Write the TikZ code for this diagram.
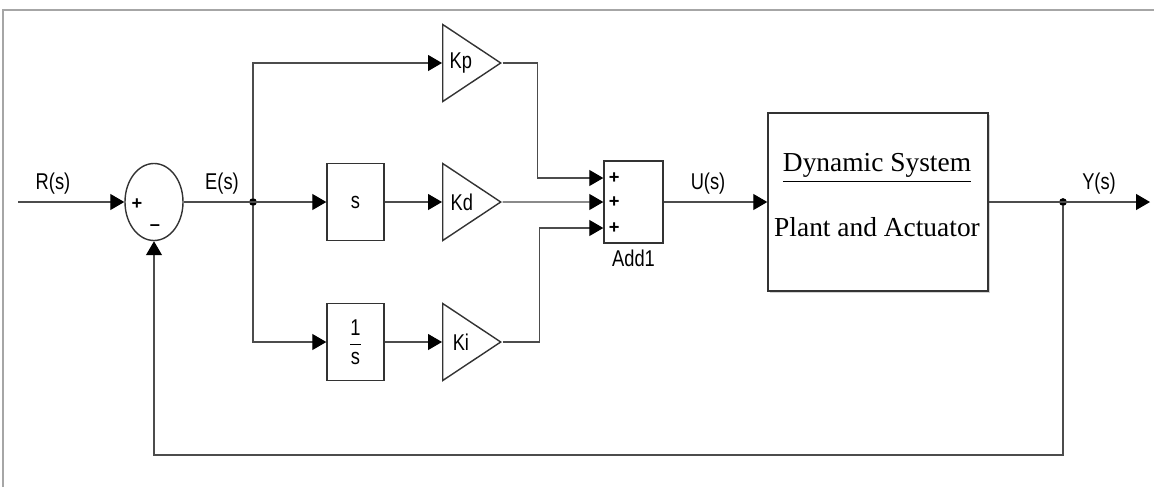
\documentclass[tikz,border=0pt]{standalone}
\usepackage{amsmath}
\usepackage{graphicx}
\usepackage{fontspec}
\setmainfont{Liberation Sans}
\newfontfamily\plantfont{Liberation Serif}
\usepackage{tikz}
\usetikzlibrary{arrows.meta, shapes.geometric, positioning, shadows, calc}
\newcommand{\tall}[1]{\scalebox{1}[1.25]{#1}}

\begin{document}
\begin{tikzpicture}[x=0.025cm, y=-0.025cm,
    wire/.style={draw=black!70, line width=0.8pt},
    sig/.style={wire, -{Triangle[length=3.5mm, width=4mm, color=black]}},
    lbl/.style={font=\fontsize{13}{15}\selectfont},
    blk/.style={draw=black!80, fill=white, line width=1pt, lbl},
    gain/.style={isosceles triangle, isosceles triangle stretches, shape border rotate=0,
                 draw=black!80, fill=white, line width=1pt, minimum width=1.925cm,
                 minimum height=1.45cm, inner sep=1pt, anchor=west, lbl},
    dot/.style={circle, fill=black, inner sep=0pt, minimum size=5.5pt}]
    \useasboundingbox (0,0) rectangle (1154,487);
    \draw[black!35, line width=1.5pt] (3,487) -- (3,10) -- (1154,10);

    % summing junction
    \node[ellipse, draw=black!80, line width=1pt, minimum width=1.45cm, minimum height=1.925cm] (sum) at (154,202) {};
    \node[lbl] (sumplus) at (137,204) {\textbf{+}};
    \node[lbl] (summinus) at (155,228) {\textbf{--}};
    \coordinate (rin) at (18,202);
    \node[lbl] (rlab) at (53,184) {\tall{R(s)}};
    \node[lbl] (elab) at (222,184) {\tall{E(s)}};
    \node[dot] (split) at (253,202) {};

    % PID branches
    \node[gain] (kp) at (442,63) {\tall{Kp}};
    \node[blk, minimum width=1.425cm, minimum height=1.925cm] (sblk) at (355.5,202) {\tall{s}};
    \node[gain] (kd) at (442,202) {\tall{Kd}};
    \node[blk, minimum width=1.425cm, minimum height=1.925cm] (iblk) at (355.5,342) {\tall{$\dfrac{\text{1}}{\text{s}}$}};
    \node[gain] (ki) at (442,342) {\tall{Ki}};

    % adder
    \node[blk, minimum width=1.475cm, minimum height=2.05cm] (add) at (633.5,202) {};
    \node[lbl, below=1pt of add] (addlab) {\tall{Add1}};
    \coordinate (in1) at ($(add.west)+(0,-24)$);
    \coordinate (in2) at (add.west);
    \coordinate (in3) at ($(add.west)+(0,26)$);
    \node[lbl] (p1) at ($(in1)+(11,0)$) {\textbf{+}};
    \node[lbl] (p2) at ($(in2)+(11,0)$) {\textbf{+}};
    \node[lbl] (p3) at ($(in3)+(11,0)$) {\textbf{+}};
    \node[lbl] (ulab) at (708,184) {\tall{U(s)}};

    % plant
    \node[blk, minimum width=5.5cm, minimum height=4.45cm,
          drop shadow={shadow xshift=1.5pt, shadow yshift=-1.5pt, fill=black!35}] (plant) at (878,202) {};
    \node[font=\plantfont\fontsize{19.5}{22}\selectfont] (dyn) at (877,168) {\underline{Dynamic System}};
    \node[font=\plantfont\fontsize{19.5}{22}\selectfont] (pa) at (877,227) {Plant and Actuator};

    \node[dot] (ysplit) at (1063,202) {};
    \coordinate (yout) at (1150,202);
    \coordinate (fb) at (1063,455);
    \node[lbl] (ylab) at (1099,184) {\tall{Y(s)}};

    % connections
    \draw[sig] (rin) -- (sum.west);
    \draw[sig] (sum.east) -- (sblk.west);
    \draw[sig] (split) |- (kp.west);
    \draw[sig] (split) |- (iblk.west);
    \draw[sig] (sblk.east) -- (kd.west);
    \draw[sig] (iblk.east) -- (ki.west);
    \draw[sig] (kp.east) -- ++(35,0) |- (in1);
    \draw[sig] (kd.east) -- (in2);
    \draw[sig] (ki.east) -- ++(37,0) |- (in3);
    \draw[sig] (add.east) -- (plant.west);
    \draw[sig] (plant.east) -- (yout);
    \draw[sig] (ysplit) -- (fb) -| (sum.south);
\end{tikzpicture}
\end{document}
